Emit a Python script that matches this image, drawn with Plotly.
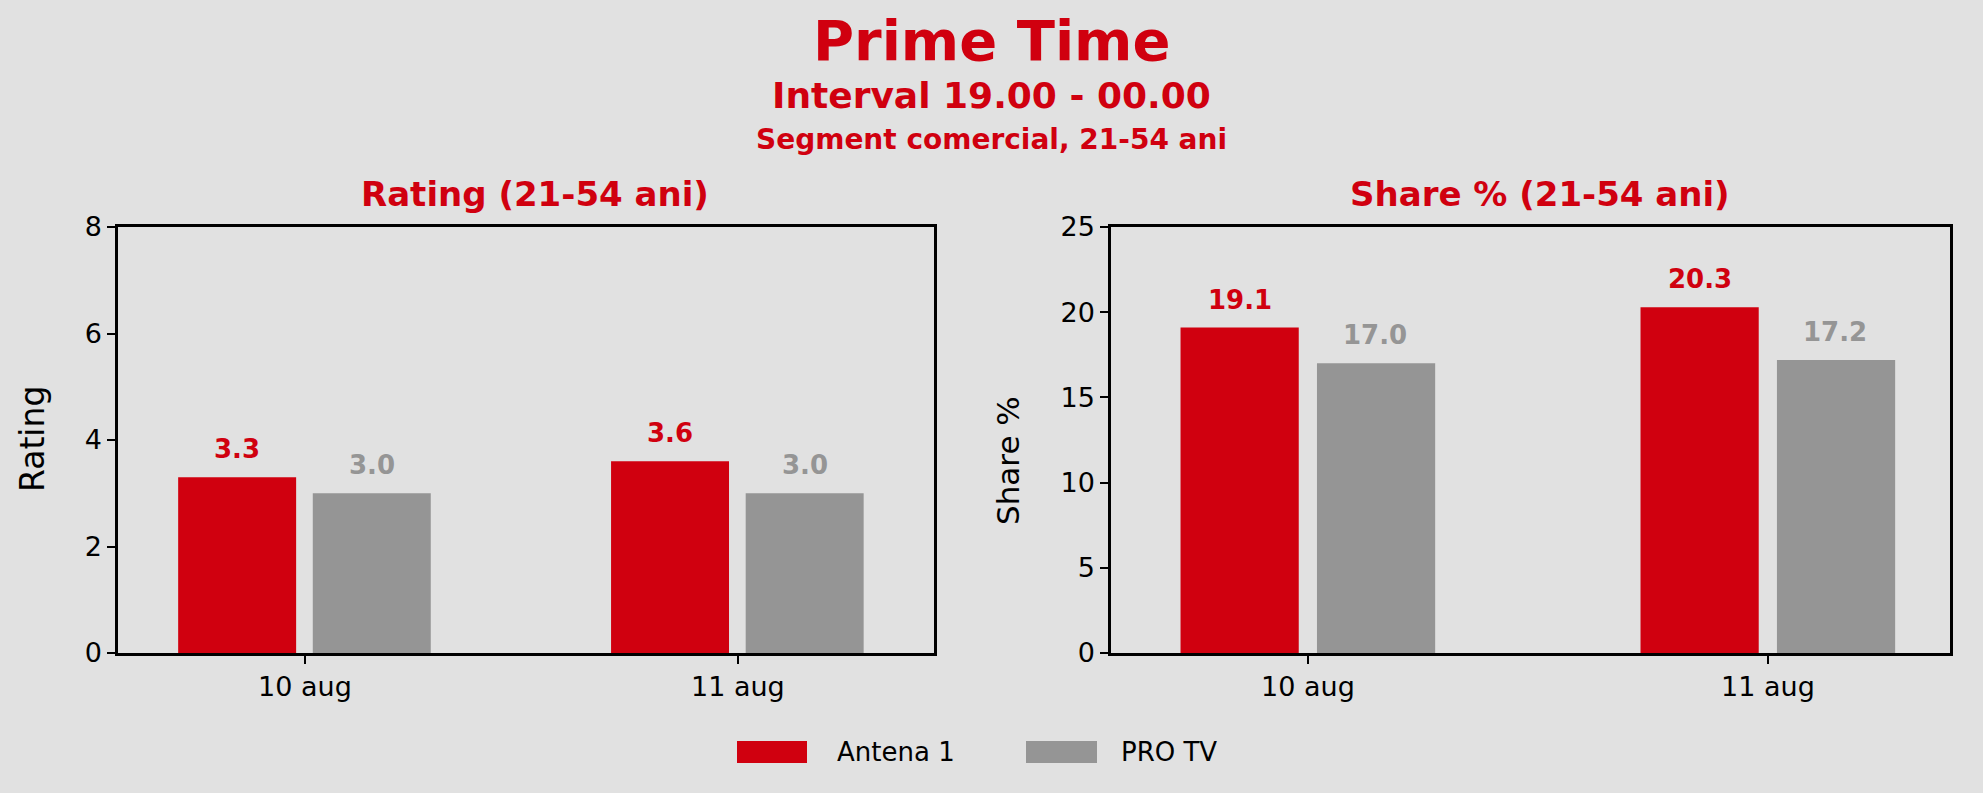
import plotly.graph_objects as go
from plotly.subplots import make_subplots

# data
days = ['10 aug', '11 aug']
channels = ['Antena 1', 'PRO TV']
rating_antena = [3.3, 3.6]
rating_protv = [3.0, 3.0]
share_antena = [19.1, 20.3]
share_protv = [17.0, 17.2]

rating_ticks = [0, 2, 4, 6, 8]
share_ticks = [0, 5, 10, 15, 20, 25]

RED = '#d0000f'
GREY = '#959595'
BG = '#e1e1e1'
FONT = 'DejaVu Sans'

fig = make_subplots(rows=1, cols=2)

# bar width / offset per panel (category units)
panels = [
    dict(col=1, vals=[rating_antena, rating_protv], width=0.2725,
         offsets=[-0.293, 0.018], xr=[-0.432, 1.453], yr=[0, 8], ticks=rating_ticks),
    dict(col=2, vals=[share_antena, share_protv], width=0.257,
         offsets=[-0.277, 0.0196], xr=[-0.428, 1.396], yr=[0, 25], ticks=share_ticks),
]

colours = [RED, GREY]
label_shift = [-68, 67]

for p in panels:
    for i, name in enumerate(channels):
        fig.add_trace(go.Bar(x=days, y=p['vals'][i], name=name,
                             marker=dict(color=colours[i], line=dict(width=0)),
                             width=p['width'], offset=p['offsets'][i],
                             showlegend=False, hoverinfo='x+y'),
                      row=1, col=p['col'])
        # value labels above the bars
        xref = 'x' if p['col'] == 1 else 'x2'
        yref = 'y' if p['col'] == 1 else 'y2'
        for d, v in zip(days, p['vals'][i]):
            fig.add_annotation(x=d, y=v, xref=xref, yref=yref, text=f'{v:.1f}',
                               showarrow=False, xshift=label_shift[i], yshift=28,
                               yanchor='middle',
                               font=dict(family=FONT, size=26, color=colours[i],
                                         weight='bold'))
    fig.update_xaxes(range=p['xr'], type='category', showgrid=False, zeroline=False,
                     showline=True, linecolor='black', linewidth=2.5, mirror=True,
                     ticks='outside', ticklen=8, tickwidth=2, tickcolor='black',
                     tickfont=dict(family=FONT, size=27, color='black'), automargin=False,
                     row=1, col=p['col'])
    fig.update_yaxes(range=p['yr'], tickvals=p['ticks'], showgrid=False, zeroline=False,
                     showline=True, linecolor='black', linewidth=2.5, mirror=True,
                     ticks='outside', ticklen=8, tickwidth=2, tickcolor='black',
                     tickfont=dict(family=FONT, size=27, color='black'), automargin=False,
                     row=1, col=p['col'])

fig.update_layout(
    width=1983, height=793,
    margin=dict(l=0, r=0, t=0, b=0, autoexpand=False),
    paper_bgcolor=BG, plot_bgcolor=BG,
    barmode='overlay', showlegend=False,
    xaxis=dict(domain=[0.0595, 0.471]),
    xaxis2=dict(domain=[0.5603, 0.9834]),
    yaxis=dict(domain=[0.1765, 0.7137]),
    yaxis2=dict(domain=[0.1765, 0.7137]),
)

# titles
titles = [
    ('Prime Time', 0.5, 0.949, 56),
    ('Interval 19.00 - 00.00', 0.5, 0.879, 36),
    ('Segment comercial, 21-54 ani', 0.5, 0.8247, 28),
    ('Rating (21-54 ani)', 0.270, 0.755, 34),
    ('Share % (21-54 ani)', 0.7766, 0.755, 34),
]
for txt, x, y, size in titles:
    fig.add_annotation(text=txt, x=x, y=y, xref='paper', yref='paper', showarrow=False,
                       xanchor='center', yanchor='middle',
                       font=dict(family=FONT, size=size, color=RED, weight='bold'))

# axis titles
fig.add_annotation(text='Rating', x=33 / 1983, y=1 - 439 / 793, xref='paper', yref='paper',
                   showarrow=False, textangle=-90, xanchor='center', yanchor='middle',
                   font=dict(family=FONT, size=33, color='black'))
fig.add_annotation(text='Share %', x=1008 / 1983, y=1 - 460 / 793, xref='paper', yref='paper',
                   showarrow=False, textangle=-90, xanchor='center', yanchor='middle',
                   font=dict(family=FONT, size=31, color='black'))

# legend drawn by hand so the swatches get the wide shape
legend_items = [(737, 807, 835), (1026, 1097, 1119)]
for (x0, x1, tx), name, col in zip(legend_items, channels, colours):
    fig.add_shape(type='rect', xref='paper', yref='paper',
                  x0=x0 / 1983, x1=x1 / 1983, y0=1 - 763 / 793, y1=1 - 741 / 793,
                  fillcolor=col, line=dict(width=0))
    fig.add_annotation(text=name, x=tx / 1983, y=1 - 752 / 793, xref='paper', yref='paper',
                       showarrow=False, xanchor='left', yanchor='middle',
                       font=dict(family=FONT, size=26, color='black'))

# pin the plot to the top-left corner of the page
pin = ("var gd = document.getElementById('{plot_id}');"
       "document.body.style.margin = '0';"
       "document.body.style.overflow = 'hidden';"
       "gd.style.position = 'fixed'; gd.style.top = '0px'; gd.style.left = '0px';")
fig.write_html('out.html', post_script=pin, config={'displayModeBar': False})
